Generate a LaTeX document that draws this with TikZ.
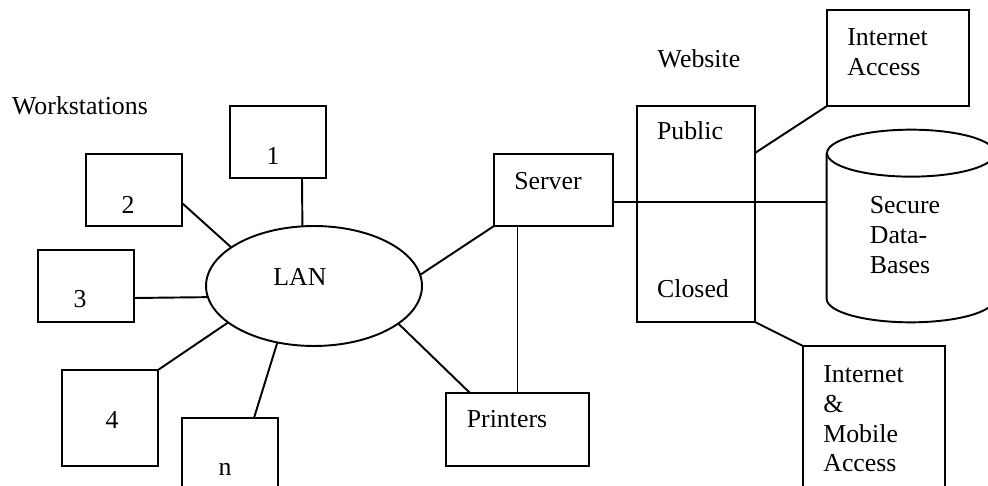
\documentclass[tikz,border=0pt]{standalone}
\usepackage{fontspec}
\setmainfont{Liberation Serif}
\usetikzlibrary{shapes.geometric}

\begin{document}
\begin{tikzpicture}[x=0.02cm,y=-0.02cm,font=\fontsize{14.7}{17}\selectfont]

	\tikzstyle{edge} = [draw,-,line width=1.1pt]
	\tikzset{box/.style = {draw,line width=1.1pt,inner sep=0pt,outer sep=0pt}}
	\tikzset{txt/.style = {inner sep=0pt,align=left}}

	\useasboundingbox (0,0) rectangle (988,486);
	\clip (0,0) rectangle (988,486);

	% workstations round the LAN
	\node[txt] (wslabel) at (80,106) {Workstations};
	\tikzset{ws/.style = {box,minimum width=1.92cm,minimum height=1.44cm}}
	\node[ws,label={[txt,xshift=-0.1cm,yshift=-0.28cm]center:1}] (ws1) at (278,142) {};
	\node[ws,label={[txt,xshift=-0.12cm,yshift=-0.3cm]center:2}] (ws2) at (134,190) {};
	\node[ws,label={[txt,xshift=-0.12cm,yshift=-0.26cm]center:3}] (ws3) at (86,286) {};
	\node[ws,minimum height=1.92cm,label={[txt,xshift=0.04cm,yshift=-0.04cm]center:4}] (ws4) at (110,418) {};
	\node[ws,minimum height=1.92cm,label={[txt,xshift=-0.1cm,yshift=-0.06cm]center:n}] (wsn) at (230,466) {};

	\node[box,ellipse,minimum width=4.32cm,minimum height=2.4cm,label={[txt,xshift=-0.28cm,yshift=0.18cm]center:LAN}] (lan) at (314,286) {};

	\node[box,minimum width=2.38cm,minimum height=1.44cm,label={[txt,xshift=-0.11cm,yshift=0.18cm]center:Server}] (server) at (553.5,190) {};
	\node[box,minimum width=2.86cm,minimum height=1.46cm,label={[txt,xshift=-0.21cm,yshift=0.2cm]center:Printers}] (printers) at (517.5,429.5) {};

	% website and what hangs off it
	\node[txt] (weblabel) at (699,59) {Website};
	\node[box,minimum width=2.36cm,minimum height=4.32cm,
		label={[txt,xshift=-0.12cm,yshift=1.66cm]center:Public},
		label={[txt,xshift=-0.06cm,yshift=-1.5cm]center:Closed}] (web) at (696,214) {};
	\node[box,minimum width=2.84cm,minimum height=1.92cm,
		label={[txt,anchor=north west,xshift=0.4cm,yshift=-0.36cm]north west:Internet\\Access}] (inet) at (898,58) {};
	\node[box,minimum width=2.84cm,minimum height=3cm,
		label={[txt,anchor=north west,xshift=0.4cm,yshift=-0.38cm]north west:Internet\\\&\\Mobile\\Access}] (mobile) at (874,421) {};

	% data bases drum
	\node[txt,minimum width=3.36cm,minimum height=3.84cm,
		label={[txt,xshift=-0.12cm,yshift=-0.18cm]center:Secure\\Data-\\Bases}] (db) at (911,226) {};
	\draw[line width=1.1pt] ([yshift=-0.47cm]db.north) ellipse [x radius=1.68cm,y radius=0.47cm];
	\draw[line width=1.1pt] ([yshift=-0.47cm]db.north west) -- ([yshift=0.47cm]db.south west)
		arc [start angle=180,end angle=360,x radius=1.68cm,y radius=0.47cm] -- ([yshift=-0.47cm]db.north east);

	\draw[edge] ([xshift=0.48cm]ws1.south) to (lan.101.4);
	\draw[edge] ([yshift=-0.26cm]ws2.east) to (lan.155.9);
	\draw[edge] ([yshift=-0.24cm]ws3.east) to (lan.186);
	\draw[edge] (ws4.north east) to (lan.203.5);
	\draw[edge] ([xshift=0.48cm]wsn.north) to (lan.237.5);
	\draw[edge] (lan.6.9) to (server.south west);
	\draw[edge] (lan.336.7) to ([xshift=-0.95cm]printers.north);
	\draw[edge] (server.south -| printers.north) to (printers.north);
	\coordinate (sdb) at ([yshift=-0.24cm]server.east);
	\draw[edge] (sdb) to (sdb -| db.west);
	\draw[edge] ([yshift=1.22cm]web.east) to (inet.south west);
	\draw[edge] (web.south east) to (mobile.north west);
\end{tikzpicture}
\end{document}
